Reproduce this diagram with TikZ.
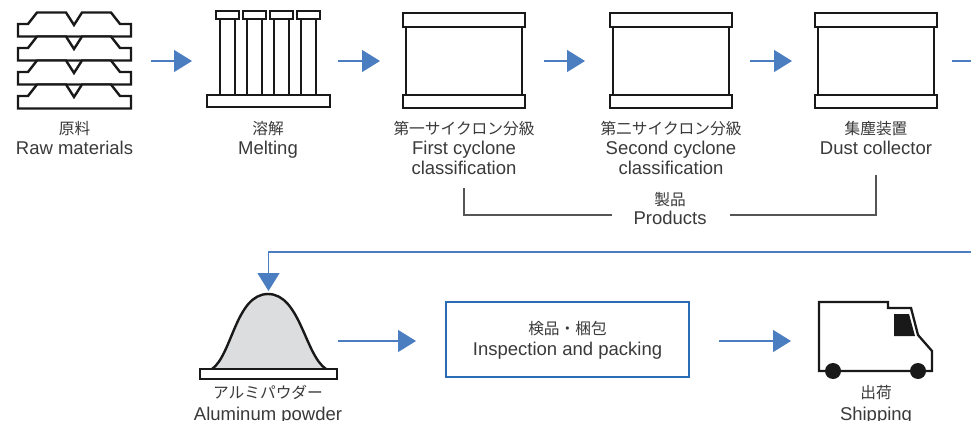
\documentclass[tikz,border=0pt]{standalone}
\usepackage{fontspec}
\setmainfont{Liberation Sans}
\newfontfamily\jp{Noto Sans CJK JP}
\usetikzlibrary{arrows.meta}
\definecolor{arrblue}{HTML}{4A7EC0}
\definecolor{boxblue}{HTML}{2A6DB5}
\definecolor{txt}{HTML}{3A3A3A}
\definecolor{brkgray}{HTML}{555555}
\definecolor{bellgray}{HTML}{DCDDDE}
\begin{document}
\begin{tikzpicture}[x=1pt,y=-1pt,
  icon/.style={draw=black!90, line width=2.4pt, fill=white, line join=miter},
  arr/.style={draw=arrblue, line width=1.3pt, -{Triangle[length=18pt,width=22pt,fill=arrblue]}},
  feed/.style={draw=arrblue, line width=1.3pt},
  brk/.style={draw=brkgray, line width=1.1pt},
  en/.style={font=\fontsize{18.5}{20}\selectfont, text=txt, anchor=base, inner sep=0pt},
  ja/.style={font=\jp\fontsize{15.7}{18}\selectfont, text=txt, anchor=base, inner sep=0pt},
  hold/.style={inner sep=0pt, outer sep=0pt, minimum height=96pt}
]
\useasboundingbox (0,0) rectangle (971,420);
\fill[white] (0,0) rectangle (971,420);

% ---------- icon holders (invisible) ----------
\node[hold, minimum width=113pt] (raw) at (74.5,61) {};
\node[hold, minimum width=123pt] (melt) at (268.5,61) {};
\node[hold, minimum width=122pt] (c1) at (464,61) {};
\node[hold, minimum width=122pt] (c2) at (671,61) {};
\node[hold, minimum width=122pt] (c3) at (876,61) {};
\node[hold, minimum width=137pt, minimum height=94pt] (pow) at (268.5,341) {};
\node[hold, minimum width=113pt, minimum height=80pt] (truck) at (875.5,341) {};
\coordinate (out1) at (971,61);
\coordinate (fin) at (971,252);

% ---------- raw materials ----------
\foreach \t in {12.5,36.5,60.5,84.5}
  \draw[icon] (18,\t+24) -- (18,\t+11.5) -- (28,\t+11.5) -- (37,\t) -- (66,\t)
     -- (74,\t+12.5) -- (82,\t) -- (111,\t) -- (120,\t+11.5) -- (131,\t+11.5)
     -- (131,\t+24) -- cycle;

% ---------- melting ----------
\foreach \x in {216,243,270,297} {
  \draw[icon, line width=2.2pt] (\x+4,19) rectangle (\x+19,95);
  \draw[icon] (\x,11) rectangle (\x+23,19);
}
\draw[icon] (207,95) rectangle (330,107);

% ---------- cyclone boxes ----------
\foreach \c in {403,610,815} {
  \draw[icon, line width=2.2pt] (\c+3,27) rectangle (\c+119,95);
  \draw[icon] (\c,13) rectangle (\c+122,27);
  \draw[icon] (\c,95) rectangle (\c+122,108);
}

% ---------- aluminum powder ----------
\fill[bellgray] (212,369) .. controls (232,355) and (236,294) .. (268,294)
  .. controls (300,294) and (305,355) .. (326,369) -- cycle;
\draw[black!90, line width=2.4pt] (212,369) .. controls (232,355) and (236,294) .. (268,294)
  .. controls (300,294) and (305,355) .. (326,369);
\draw[icon] (200,369) rectangle (337,379);

% ---------- inspection box ----------
\node[draw=boxblue, line width=2pt, inner sep=0pt, minimum width=243pt, minimum height=75pt]
  (insp) at (567.5,339.5) {};

% ---------- truck ----------
\draw[black!90, line width=2.3pt, line join=miter] (819,302) -- (888,302) -- (888,308)
  -- (911,308) -- (918,335) -- (932,351) -- (932,371) -- (819,371) -- cycle;
\fill[black!90] (894,314) -- (909,314) -- (915,336) -- (894,336) -- cycle;
\fill[black!90] (833,371) circle (8);
\fill[black!90] (918,371) circle (8);

% ---------- labels ----------
\node[ja] (rawj) at (74.5,134.5) {原料};
\node[en] (rawe) at (74.5,154) {Raw materials};
\node[ja] (meltj) at (268,134.5) {溶解};
\node[en] (melte) at (268,154) {Melting};
\node[ja] (c1j) at (464,134.5) {第一サイクロン分級};
\node[en] (c1e1) at (464,154) {First cyclone};
\node[en] (c1e2) at (464,174) {classification};
\node[ja] (c2j) at (671,134.5) {第二サイクロン分級};
\node[en] (c2e1) at (671,154) {Second cyclone};
\node[en] (c2e2) at (671,174) {classification};
\node[ja] (c3j) at (876,134.5) {集塵装置};
\node[en] (c3e1) at (876,154) {Dust collector};
\node[ja] (prodj) at (670,205.5) {製品};
\node[en] (prode) at (670,224) {Products};
\node[ja] (inspj) at (567.5,334.5) {検品・梱包};
\node[en] (inspe) at (567.5,355) {Inspection and packing};
\node[ja] (powj) at (268,398.5) {アルミパウダー};
\node[en] (powe) at (268,420) {Aluminum powder};
\node[ja] (truckj) at (876,398.5) {出荷};
\node[en] (trucke) at (876,420.5) {Shipping};

% ---------- connectors ----------
\draw[arr, shorten <=20pt, shorten >=15pt] (raw.east) -- (melt.west);
\draw[arr, shorten <=8pt, shorten >=23pt] (melt.east) -- (c1.west);
\draw[arr, shorten <=19pt, shorten >=25pt] (c1.east) -- (c2.west);
\draw[arr, shorten <=18pt, shorten >=23pt] (c2.east) -- (c3.west);
\draw[feed, shorten <=15pt] (c3.east) -- (out1);
\draw[arr, shorten >=3pt] (fin) -- (fin -| pow.north) -- (pow.north);
\draw[arr, shorten <=1pt, shorten >=29pt] (pow.east) -- (pow.east -| insp.west);
\draw[arr, shorten <=29pt, shorten >=28pt] (insp.east |- truck.west) -- (truck.west);

\coordinate (pk) at (670,215);
\draw[brk, shorten <=14pt, shorten >=21.5pt] (c1e2.south) -- (c1e2.south |- pk) -- (prode.west |- pk);
\draw[brk, shorten <=21pt, shorten >=23.5pt] (c3e1.south) -- (c3e1.south |- pk) -- (prode.east |- pk);
\end{tikzpicture}
\end{document}
